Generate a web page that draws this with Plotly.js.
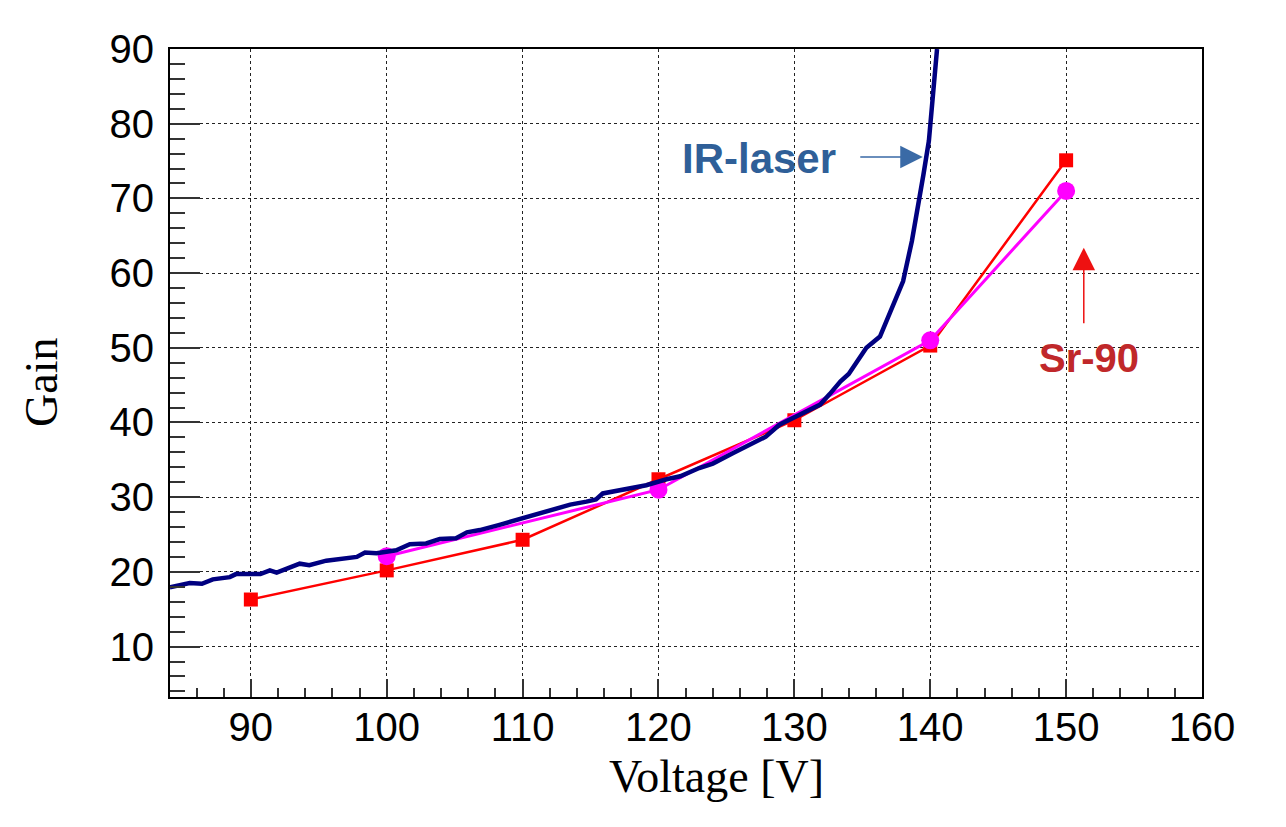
<!DOCTYPE html>
<html>
<head>
<meta charset="utf-8">
<script src="https://cdn.plot.ly/plotly-3.0.1.min.js"></script>
<style>html,body{margin:0;padding:0;background:#fff;}#chart{width:1286px;height:827px;}</style>
</head>
<body>
<div id="chart"></div>
<script>
// IR-laser gain curve (continuous scan)
var irVoltage = [84.04, 85.5, 86.4, 87.2, 88.45, 88.9, 90.7, 91.4, 91.9, 93.6, 94.3, 95.55, 97.8, 98.4, 99.25, 100.7, 101.7, 102.9, 103.9, 105.1, 105.9, 106.85, 108.3, 110.3, 112.0, 113.5, 114.7, 115.4, 115.9, 117.15, 118.1, 119.1, 120.6, 121.6, 123.0, 124.0, 125.5, 126.7, 127.9, 128.9, 129.9, 131.0, 131.9, 132.6, 133.4, 134.0, 134.6, 135.3, 136.3, 137.3, 138.0, 138.65, 139.1, 139.5, 139.9, 140.1, 140.5];
var irGain    = [17.94, 18.5, 18.4, 19.0, 19.3, 19.7, 19.7, 20.2, 19.9, 21.1, 20.9, 21.5, 22.0, 22.6, 22.5, 22.9, 23.7, 23.8, 24.4, 24.5, 25.3, 25.6, 26.3, 27.3, 28.3, 29.0, 29.4, 29.7, 30.5, 30.9, 31.3, 31.6, 32.4, 32.8, 33.9, 34.5, 35.9, 37.0, 38.1, 39.7, 40.6, 41.5, 42.4, 43.8, 45.5, 46.5, 48.0, 50.0, 51.5, 55.8, 58.9, 64.3, 68.7, 73.2, 77.7, 82.1, 90.0];

// Sr-90 measurements (red squares)
var srVoltageA = [90, 100, 110, 120, 130, 140, 150];
var srGainA    = [16.3, 20.2, 24.3, 32.4, 40.3, 50.3, 75.1];

// Sr-90 measurements (magenta circles)
var srVoltageB = [100, 120, 140, 150];
var srGainB    = [22.1, 31.0, 51.0, 71.0];

// Axis ticks
var xTicks = [90, 100, 110, 120, 130, 140, 150, 160];
var yTicks = [10, 20, 30, 40, 50, 60, 70, 80, 90];

var traces = [
  {x: srVoltageA, y: srGainA, type: 'scatter', mode: 'lines+markers',
   line: {color: '#ff0000', width: 2.5},
   marker: {symbol: 'square', size: 14, color: '#ff0000'}, name: 'Sr-90 A'},
  {x: srVoltageB, y: srGainB, type: 'scatter', mode: 'lines+markers',
   line: {color: '#ff00ff', width: 3},
   marker: {symbol: 'circle', size: 18, color: '#ff00ff'}, name: 'Sr-90 B'},
  {x: irVoltage, y: irGain, type: 'scatter', mode: 'lines',
   line: {color: '#000080', width: 4.5}, name: 'IR-laser'}
];

var axisCommon = {
  showline: true, linecolor: '#000', linewidth: 2, mirror: true,
  showgrid: true, gridcolor: '#222', gridwidth: 1, griddash: 'dot',
  zeroline: false, ticks: 'inside', tickcolor: '#333', tickwidth: 2,
  tickfont: {family: 'Liberation Sans, Arial, sans-serif', size: 40, color: '#000'}
};

var layout = {
  width: 1286, height: 827, autosize: false,
  paper_bgcolor: '#fff', plot_bgcolor: '#fff',
  showlegend: false,
  margin: {l: 170, r: 84, t: 49, b: 130, pad: 0},
  xaxis: Object.assign({}, axisCommon, {
    range: [84.05, 160], tickmode: 'array', tickvals: xTicks, ticktext: xTicks.map(String),
    ticklen: 18, ticklabelstandoff: -6,
    minor: {dtick: 2, tick0: 0, ticks: 'inside', ticklen: 9, tickcolor: '#333', tickwidth: 2, showgrid: false}
  }),
  yaxis: Object.assign({}, axisCommon, {
    range: [3.25, 90], tickmode: 'array', tickvals: yTicks, ticktext: yTicks.map(String),
    ticklen: 30, ticklabelstandoff: 6,
    minor: {dtick: 2, tick0: 0, ticks: 'inside', ticklen: 15, tickcolor: '#333', tickwidth: 2, showgrid: false}
  }),
  annotations: [
    {text: 'Voltage [V]', xref: 'paper', yref: 'paper', x: 0.530, y: -0.122,
     xanchor: 'center', yanchor: 'middle', showarrow: false,
     font: {family: 'Liberation Serif, Times New Roman, serif', size: 46, color: '#000'}},
    {text: 'Gain', xref: 'paper', yref: 'paper', x: -0.124, y: 0.4846, textangle: -90,
     xanchor: 'center', yanchor: 'middle', showarrow: false,
     font: {family: 'Liberation Serif, Times New Roman, serif', size: 46, color: '#000'}},
    {text: '<b>IR-laser</b>', xref: 'x', yref: 'y', x: 127.4, y: 75.4,
     xanchor: 'center', yanchor: 'middle', showarrow: false,
     font: {family: 'Liberation Sans, Arial, sans-serif', size: 42, color: '#2f5f98'}},
    {text: '<b>Sr-90</b>', xref: 'x', yref: 'y', x: 151.7, y: 48.6,
     xanchor: 'center', yanchor: 'middle', showarrow: false,
     font: {family: 'Liberation Sans, Arial, sans-serif', size: 40, color: '#c0282a'}},
    {text: '', xref: 'x', yref: 'y', x: 139.45, y: 75.55, ax: -64, ay: 0,
     showarrow: true, arrowhead: 2, arrowsize: 3, arrowwidth: 1.5, arrowcolor: '#3a6aa6', standoff: 0},
    {text: '', xref: 'x', yref: 'y', x: 151.3, y: 63.4, ax: 0, ay: 77,
     showarrow: true, arrowhead: 2, arrowsize: 3, arrowwidth: 1.5, arrowcolor: '#ee1111', standoff: 0}
  ]
};

Plotly.newPlot('chart', traces, layout, {displayModeBar: false, staticPlot: true});
</script>
</body>
</html>
